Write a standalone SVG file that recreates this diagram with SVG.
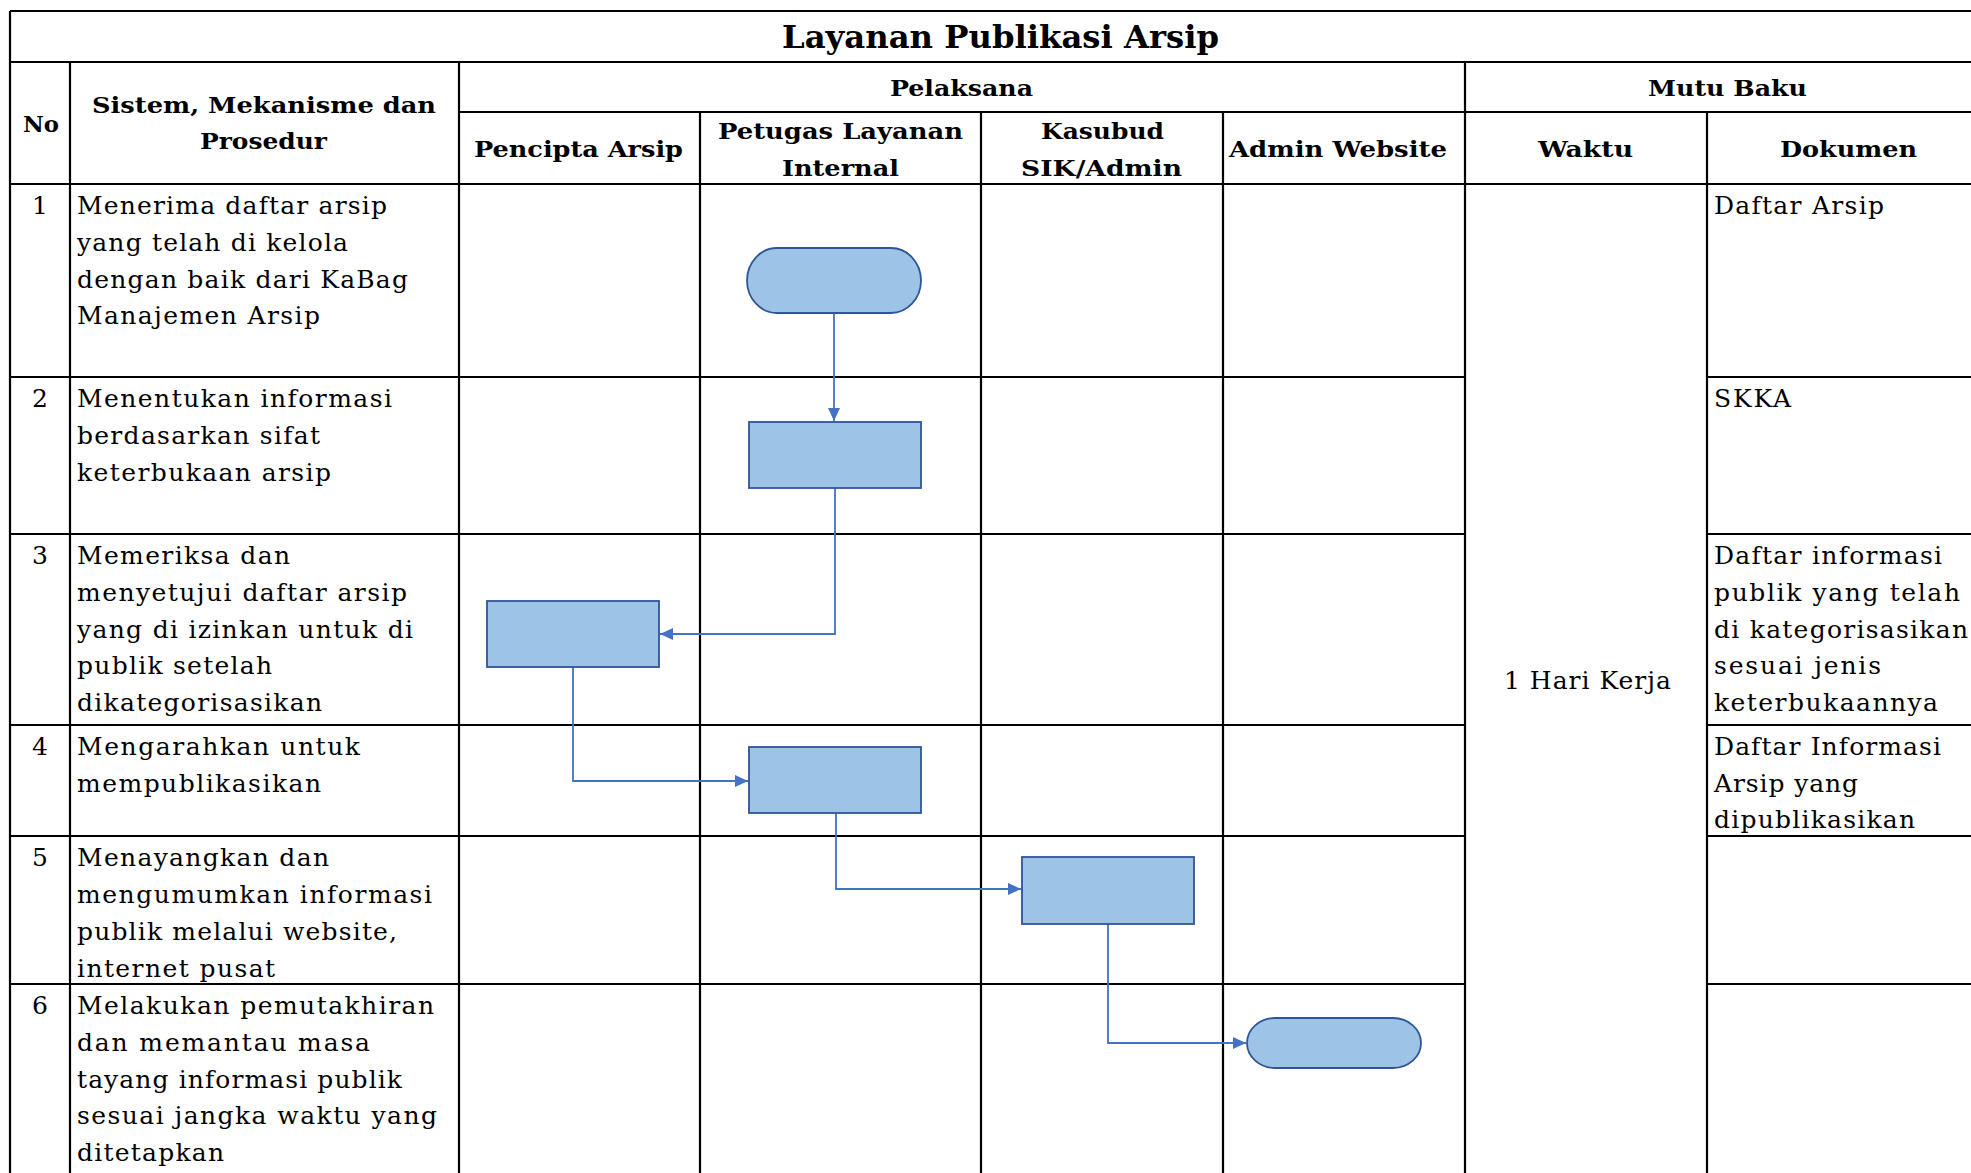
<svg xmlns="http://www.w3.org/2000/svg" width="1971" height="1173" viewBox="0 0 1971 1173">
<style>
.grid line{stroke:#000;stroke-width:2.2}
.h{font-family:"DejaVu Serif","Liberation Serif",serif;font-weight:bold;font-size:22.5px;fill:#000}
.t{font-family:"DejaVu Serif","Liberation Serif",serif;font-weight:bold;font-size:31px;fill:#000}
.b{font-family:"DejaVu Serif","Liberation Serif",serif;font-size:25px;fill:#000}
.n{font-family:"DejaVu Serif","Liberation Serif",serif;font-size:25px;fill:#000;text-anchor:middle}
.shape{fill:#9DC3E6;stroke:#2F5597;stroke-width:1.8}
.conn path{fill:none;stroke:#4472C4;stroke-width:1.8}
</style>
<defs>
<marker id="arr" markerUnits="userSpaceOnUse" markerWidth="13" markerHeight="12" refX="13" refY="6" orient="auto">
<path d="M0,0 L13,6 L0,12 z" fill="#4472C4"/>
</marker>
</defs>
<rect x="0" y="0" width="1971" height="1173" fill="#fff"/>
<g class="grid">
<line x1="10" y1="11" x2="1971" y2="11"/>
<line x1="10" y1="62" x2="1971" y2="62"/>
<line x1="459" y1="112" x2="1971" y2="112"/>
<line x1="10" y1="184" x2="1971" y2="184"/>
<line x1="10" y1="11" x2="10" y2="1173"/>
<line x1="70" y1="62" x2="70" y2="1173"/>
<line x1="459" y1="62" x2="459" y2="1173"/>
<line x1="700" y1="112" x2="700" y2="1173"/>
<line x1="981" y1="112" x2="981" y2="1173"/>
<line x1="1223" y1="112" x2="1223" y2="1173"/>
<line x1="1465" y1="62" x2="1465" y2="1173"/>
<line x1="1707" y1="112" x2="1707" y2="1173"/>
<line x1="10" y1="377" x2="1465" y2="377"/><line x1="1707" y1="377" x2="1971" y2="377"/>
<line x1="10" y1="534" x2="1465" y2="534"/><line x1="1707" y1="534" x2="1971" y2="534"/>
<line x1="10" y1="725" x2="1465" y2="725"/><line x1="1707" y1="725" x2="1971" y2="725"/>
<line x1="10" y1="836" x2="1465" y2="836"/><line x1="1707" y1="836" x2="1971" y2="836"/>
<line x1="10" y1="984" x2="1465" y2="984"/><line x1="1707" y1="984" x2="1971" y2="984"/>
</g>
<g id="headers">
<text class="t" x="782" y="48" textLength="437" lengthAdjust="spacingAndGlyphs">Layanan Publikasi Arsip</text>
<text class="h" x="890" y="96" textLength="143" lengthAdjust="spacingAndGlyphs">Pelaksana</text>
<text class="h" x="1648" y="96" textLength="159" lengthAdjust="spacingAndGlyphs">Mutu Baku</text>
<text class="h" x="23" y="132" textLength="36" lengthAdjust="spacingAndGlyphs">No</text>
<text class="h" x="92" y="113" textLength="344" lengthAdjust="spacingAndGlyphs">Sistem, Mekanisme dan</text>
<text class="h" x="200" y="149" textLength="127" lengthAdjust="spacingAndGlyphs">Prosedur</text>
<text class="h" x="474" y="157" textLength="209" lengthAdjust="spacingAndGlyphs">Pencipta Arsip</text>
<text class="h" x="718" y="139" textLength="245" lengthAdjust="spacingAndGlyphs">Petugas Layanan</text>
<text class="h" x="782" y="176" textLength="117" lengthAdjust="spacingAndGlyphs">Internal</text>
<text class="h" x="1041" y="139" textLength="123" lengthAdjust="spacingAndGlyphs">Kasubud</text>
<text class="h" x="1021" y="176" textLength="161" lengthAdjust="spacingAndGlyphs">SIK/Admin</text>
<text class="h" x="1229" y="157" textLength="218" lengthAdjust="spacingAndGlyphs">Admin Website</text>
<text class="h" x="1538" y="157" textLength="95" lengthAdjust="spacingAndGlyphs">Waktu</text>
<text class="h" x="1780" y="157" textLength="137" lengthAdjust="spacingAndGlyphs">Dokumen</text>
</g>
<g id="rows">
<text class="n" x="40" y="214">1</text>
<text class="b" x="77" y="214" textLength="310">Menerima daftar arsip</text>
<text class="b" x="77" y="251" textLength="271">yang telah di kelola</text>
<text class="b" x="77" y="288" textLength="331">dengan baik dari KaBag</text>
<text class="b" x="77" y="324" textLength="243">Manajemen Arsip</text>
<text class="n" x="40" y="407">2</text>
<text class="b" x="77" y="407" textLength="315">Menentukan informasi</text>
<text class="b" x="77" y="444" textLength="243">berdasarkan sifat</text>
<text class="b" x="77" y="481" textLength="254">keterbukaan arsip</text>
<text class="n" x="40" y="564">3</text>
<text class="b" x="77" y="564" textLength="213">Memeriksa dan</text>
<text class="b" x="77" y="601" textLength="330">menyetujui daftar arsip</text>
<text class="b" x="77" y="638" textLength="336">yang di izinkan untuk di</text>
<text class="b" x="77" y="674" textLength="195">publik setelah</text>
<text class="b" x="77" y="711" textLength="245">dikategorisasikan</text>
<text class="n" x="40" y="755">4</text>
<text class="b" x="77" y="755" textLength="283">Mengarahkan untuk</text>
<text class="b" x="77" y="792" textLength="244">mempublikasikan</text>
<text class="n" x="40" y="866">5</text>
<text class="b" x="77" y="866" textLength="252">Menayangkan dan</text>
<text class="b" x="77" y="903" textLength="355">mengumumkan informasi</text>
<text class="b" x="77" y="940" textLength="320">publik melalui website,</text>
<text class="b" x="77" y="977" textLength="198">internet pusat</text>
<text class="n" x="40" y="1014">6</text>
<text class="b" x="77" y="1014" textLength="357">Melakukan pemutakhiran</text>
<text class="b" x="77" y="1051" textLength="293">dan memantau masa</text>
<text class="b" x="77" y="1088" textLength="325">tayang informasi publik</text>
<text class="b" x="77" y="1124" textLength="360">sesuai jangka waktu yang</text>
<text class="b" x="77" y="1161" textLength="147">ditetapkan</text>
</g>
<g id="waktu">
<text class="b" x="1504" y="689" textLength="167">1 Hari Kerja</text>
</g>
<g id="dokumen">
<text class="b" x="1714" y="214" textLength="170">Daftar Arsip</text>
<text class="b" x="1714" y="407" textLength="77">SKKA</text>
<text class="b" x="1714" y="564" textLength="228">Daftar informasi</text>
<text class="b" x="1714" y="601" textLength="246">publik  yang telah</text>
<text class="b" x="1714" y="638" textLength="254">di kategorisasikan</text>
<text class="b" x="1714" y="674" textLength="167">sesuai jenis</text>
<text class="b" x="1714" y="711" textLength="224">keterbukaannya</text>
<text class="b" x="1714" y="755" textLength="227">Daftar Informasi</text>
<text class="b" x="1714" y="792" textLength="144">Arsip yang</text>
<text class="b" x="1714" y="828" textLength="201">dipublikasikan</text>
</g>
<g class="conn" id="connectors">
<path d="M834,313 L834,421" marker-end="url(#arr)"/>
<path d="M835,488 L835,634 L660,634" marker-end="url(#arr)"/>
<path d="M573,667 L573,781 L748,781" marker-end="url(#arr)"/>
<path d="M836,813 L836,889 L1021,889" marker-end="url(#arr)"/>
<path d="M1108,924 L1108,1043 L1246,1043" marker-end="url(#arr)"/>
</g>
<g id="node1"><rect class="shape" x="747" y="248" width="174" height="65" rx="30" ry="32.5"/></g>
<g id="node2"><rect class="shape" x="749" y="422" width="172" height="66"/></g>
<g id="node3"><rect class="shape" x="487" y="601" width="172" height="66"/></g>
<g id="node4"><rect class="shape" x="749" y="747" width="172" height="66"/></g>
<g id="node5"><rect class="shape" x="1022" y="857" width="172" height="67"/></g>
<g id="node6"><rect class="shape" x="1247" y="1018" width="174" height="50" rx="28" ry="25"/></g>
</svg>
